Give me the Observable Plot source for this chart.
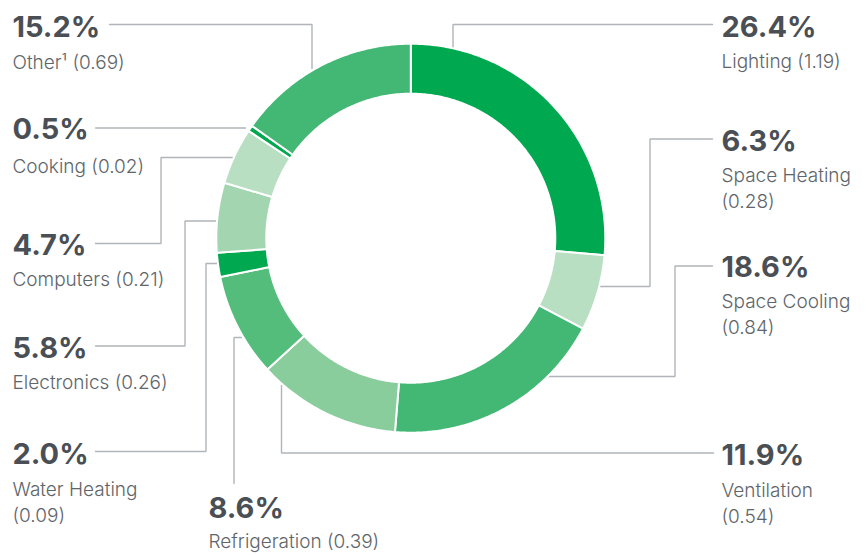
<!DOCTYPE html>
<html>
<head>
<meta charset="utf-8">
<script src="https://cdn.jsdelivr.net/npm/d3@7"></script>
<script src="https://cdn.jsdelivr.net/npm/@observablehq/plot@0.6"></script>
<style>
  html, body { margin: 0; padding: 0; background: #fff; }
  #chart { width: 866px; height: 555px; }
</style>
</head>
<body>
<div id="chart"></div>
<script>
// ---- data ----
const categories = ["Lighting", "Space Heating", "Space Cooling", "Ventilation", "Refrigeration",
                    "Water Heating", "Electronics", "Computers", "Cooking", "Other¹"];
const shares = [26.4, 6.3, 18.6, 11.9, 8.6, 2.0, 5.8, 4.7, 0.5, 15.2];
const quads = [1.19, 0.28, 0.84, 0.54, 0.39, 0.09, 0.26, 0.21, 0.02, 0.69];

// ---- styles ----
const colors = ["#00a84f", "#b8dfc2", "#42b874", "#8acd9d", "#55bd7c",
                "#00a84f", "#a3d5b0", "#b8dfc2", "#00a84f", "#42b874"];

// ---- layout (pixel space) ----
const center = [410.3, 237.7];
const rOuter = 194.5, rInner = 144.5;
const layout = [
  {tx: 721, pctY: 36,    subY: 67,  wrap: false, leader: [[712,24],[452.5,24],[452.5,47]]},
  {tx: 721, pctY: 150,   subY: 181, wrap: true,  leader: [[712,138.5],[649.5,138.5],[649.5,286],[600,286]]},
  {tx: 721, pctY: 276,   subY: 307, wrap: true,  leader: [[712,265.5],[674.5,265.5],[674.5,376],[547,376]]},
  {tx: 721, pctY: 464,   subY: 496, wrap: true,  leader: [[713,452.5],[281,452.5],[281,385]]},
  {tx: 208, pctY: 517,   subY: 547, wrap: false, leader: [[233.5,483],[233.5,337],[241,337]]},
  {tx: 12,  pctY: 463,   subY: 495, wrap: true,  leader: [[95,451],[205.5,451],[205.5,263],[218,263]]},
  {tx: 12,  pctY: 357,   subY: 388, wrap: false, leader: [[95,345.5],[184.5,345.5],[184.5,220.5],[216,220.5]]},
  {tx: 12,  pctY: 254,   subY: 285, wrap: false, leader: [[95,243],[160.5,243],[160.5,157],[232,157]]},
  {tx: 12,  pctY: 138.5, subY: 172, wrap: false, leader: [[95,127.5],[245,127.5]]},
  {tx: 12,  pctY: 36,    subY: 68,  wrap: false, leader: [[109,24],[311.5,24],[311.5,68]]}
];
const subLineGap = 26;

// ---- build ----
const rows = categories.map((c, i) => ({key: c, share: shares[i], quad: quads[i], color: colors[i], i}));
const arcs = d3.pie().sort(null).value(d => d.share)(rows);

const arcPts = [];
arcs.forEach(a => {
  const a0 = a.startAngle, a1 = a.endAngle;
  const n = Math.max(2, Math.ceil((a1 - a0) / (Math.PI / 360)));
  const pts = [];
  for (let k = 0; k <= n; k++) {
    const t = a0 + (a1 - a0) * k / n;
    pts.push([center[0] + rOuter * Math.sin(t), center[1] - rOuter * Math.cos(t)]);
  }
  for (let k = n; k >= 0; k--) {
    const t = a0 + (a1 - a0) * k / n;
    pts.push([center[0] + rInner * Math.sin(t), center[1] - rInner * Math.cos(t)]);
  }
  pts.push(pts[0]);
  pts.forEach(p => arcPts.push({key: a.data.key, color: a.data.color, x: p[0], y: p[1]}));
});

const leaderPts = [];
rows.forEach((r, i) => layout[i].leader.forEach(p => leaderPts.push({key: r.key, x: p[0], y: p[1]})));

const pctText = rows.map((r, i) => ({x: layout[i].tx, y: layout[i].pctY, text: r.share.toFixed(1) + "%"}));
const subText = [];
rows.forEach((r, i) => {
  const L = layout[i];
  const val = "(" + r.quad.toFixed(2) + ")";
  if (L.wrap) {
    subText.push({x: L.tx, y: L.subY, text: r.key});
    subText.push({x: L.tx, y: L.subY + subLineGap, text: val});
  } else {
    subText.push({x: L.tx, y: L.subY, text: r.key + " " + val});
  }
});

const chart = Plot.plot({
  width: 866,
  height: 555,
  margin: 0,
  x: {domain: [0, 866], range: [0, 866], axis: null},
  y: {domain: [0, 555], range: [0, 555], axis: null},
  color: {type: "identity"},
  style: {background: "#fff"},
  marks: [
    Plot.line(leaderPts, {x: "x", y: "y", z: "key", stroke: "#b1b5b9", strokeWidth: 1.4, curve: "linear", strokeLinejoin: "miter"}),
    Plot.line(arcPts, {x: "x", y: "y", z: "key", fill: "color", stroke: "white", strokeWidth: 2, curve: "linear"}),
    Plot.text(pctText, {x: "x", y: "y", text: "text", textAnchor: "start", lineAnchor: "bottom",
      fontFamily: "Inter", fontWeight: 700, fontSize: 29, fill: "#4a4f55"}),
    Plot.text(subText, {x: "x", y: "y", text: "text", textAnchor: "start", lineAnchor: "bottom",
      fontFamily: "Inter", fontWeight: 300, fontSize: 19, fill: "#60656a"})
  ]
});
document.getElementById("chart").appendChild(chart);
</script>
</body>
</html>
